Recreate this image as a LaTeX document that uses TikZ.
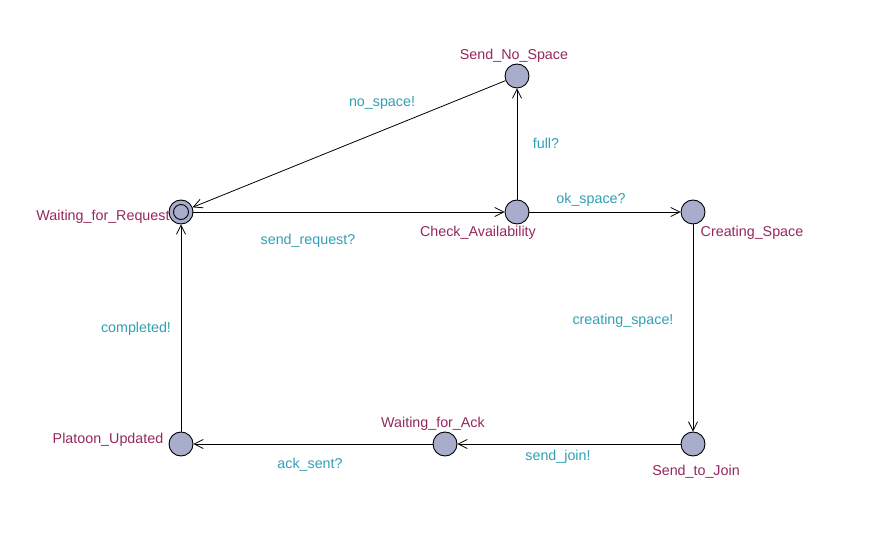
\documentclass[tikz,border=0pt]{standalone}
\usepackage{fontspec}
\setmainfont{Liberation Sans}
\usetikzlibrary{arrows.meta}
\definecolor{statefill}{RGB}{168,173,204}
\definecolor{namecol}{RGB}{150,40,95}
\definecolor{labcol}{RGB}{50,160,180}
\tikzset{
  state/.style={circle,draw=black,fill=statefill,line width=0.9pt,minimum size=24pt,inner sep=0pt},
  innerring/.style={circle,draw=black,line width=0.9pt,minimum size=15pt,inner sep=0pt},
  sname/.style={text=namecol,font=\fontsize{14.3}{16}\selectfont,inner sep=0pt},
  elabel/.style={text=labcol,font=\fontsize{14.3}{16}\selectfont,inner sep=0pt},
  edge/.style={draw=black,line width=0.8pt,-{Straight Barb[length=9pt,width=9pt]}}
}
\begin{document}
\begin{tikzpicture}[x=1pt,y=-1pt]
\useasboundingbox (0,0) rectangle (886,534);
\fill[white] (0,0) rectangle (886,534);
\node[state] (wfr) at (181,212) {};
\node[innerring] (wfri) at (wfr.center) {};
\node[state] (ca) at (517,212) {};
\node[state] (sns) at (517,76) {};
\node[state] (cs) at (693,212) {};
\node[state] (stj) at (693,444) {};
\node[state] (wfa) at (445,444) {};
\node[state] (pu) at (181,444) {};
\node[sname] (n1) at (103,216.5) {Waiting\_for\_Request};
\node[sname] (n2) at (478,232.5) {Check\_Availability};
\node[sname] (n3) at (514,55.5) {Send\_No\_Space};
\node[sname] (n4) at (752,232.5) {Creating\_Space};
\node[sname] (n5) at (696,471.5) {Send\_to\_Join};
\node[sname] (n6) at (433,423.5) {Waiting\_for\_Ack};
\node[sname] (n7) at (108,439.5) {Platoon\_Updated};
\path[edge] (sns) -- (wfr);
\path[edge] (wfr) -- (ca);
\path[edge] (ca) -- (sns);
\path[edge] (ca) -- (cs);
\path[edge] (cs) -- (stj);
\path[edge] (stj) -- (wfa);
\path[edge] (wfa) -- (pu);
\path[edge] (pu) -- (wfr);
\node[elabel] (l1) at (382,103.5) {no\_space!};
\node[elabel] (l2) at (546,143.5) {full?};
\node[elabel] (l3) at (591,199.5) {ok\_space?};
\node[elabel] (l4) at (308,240.5) {send\_request?};
\node[elabel] (l5) at (623,320.5) {creating\_space!};
\node[elabel] (l6) at (136,328.5) {completed!};
\node[elabel] (l7) at (558,456.5) {send\_join!};
\node[elabel] (l8) at (310,464.5) {ack\_sent?};
\end{tikzpicture}
\end{document}
